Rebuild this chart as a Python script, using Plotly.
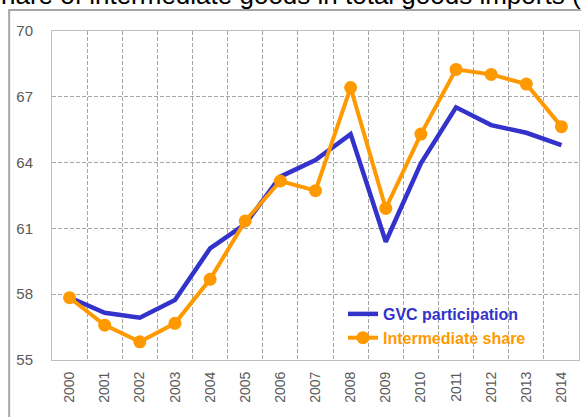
import plotly.graph_objects as go

years = [str(y) for y in range(2000, 2015)]
gvc_participation = [57.85, 57.15, 56.93, 57.73, 60.09, 61.2, 63.36, 64.12, 65.30,
                     60.39, 63.97, 66.52, 65.71, 65.36, 64.80]
intermediate_share = [57.84, 56.59, 55.83, 56.67, 58.68, 61.34, 63.16, 62.72, 67.42,
                      61.91, 65.30, 68.25, 68.02, 67.58, 65.64]
y_ticks = [55, 58, 61, 64, 67, 70]
title_text = "hare of intermediate goods in total goods imports ("

BLUE = "#3333CC"
ORANGE = "#FF9900"

fig = go.Figure()
fig.add_trace(go.Scatter(x=years, y=gvc_participation, mode="lines",
                         name=f"<b><span style='color:{BLUE}'>GVC participation</span></b>",
                         line=dict(color=BLUE, width=4.5)))
fig.add_trace(go.Scatter(x=years, y=intermediate_share, mode="lines+markers",
                         name=f"<b><span style='color:{ORANGE}'>Intermediate share</span></b>",
                         line=dict(color=ORANGE, width=4),
                         marker=dict(color=ORANGE, size=13)))

L, R, T, B = 52.3, 578.8, 31.0, 360.0
W, H = 581, 417
pw, ph = R - L, B - T

def px(x):
    return (x - L) / pw

def py(y):
    return (B - y) / ph

GRID = "#a6a6a6"

fig.update_layout(
    width=W, height=H,
    margin=dict(l=L, r=W - R, t=T, b=H - B, pad=0),
    paper_bgcolor="white", plot_bgcolor="white",
    showlegend=True,
    legend=dict(x=px(343), y=py(297), xanchor="left", yanchor="top",
                bgcolor="rgba(0,0,0,0)", borderwidth=0,
                font=dict(family="Liberation Sans, Arial", size=16, color=BLUE),
                itemwidth=30, tracegroupgap=0, itemsizing="trace"),
    font=dict(family="Liberation Sans, Arial"),
)

fig.update_xaxes(type="category", tickson="boundaries", showgrid=True,
                 gridcolor=GRID, griddash="4px,2px", gridwidth=1,
                 showline=True, linecolor="#bfbfbf", linewidth=1, mirror=True,
                 ticks="", tickangle=-90, ticklabelstandoff=5,
                 tickfont=dict(family="Liberation Sans, Arial", size=14, color="#595959"),
                 range=[-0.5, 14.5], zeroline=False)
fig.update_yaxes(range=[55, 70], tickvals=y_ticks, ticktext=[str(v) for v in y_ticks],
                 showgrid=True, gridcolor=GRID, griddash="4px,2px", gridwidth=1,
                 showline=True, linecolor="#bfbfbf", linewidth=1, mirror=True,
                 ticks="", ticklabelstandoff=15,
                 tickfont=dict(family="Liberation Sans, Arial", size=15, color="#595959"),
                 zeroline=False)

# outer frame lines
fig.add_shape(type="line", xref="paper", yref="paper",
              x0=px(9.5), x1=px(9.5), y0=py(10), y1=py(420),
              line=dict(color="#a6a6a6", width=2))
fig.add_shape(type="line", xref="paper", yref="paper",
              x0=px(8.5), x1=px(590), y0=py(10), y1=py(10),
              line=dict(color="#a6a6a6", width=2))

fig.add_annotation(text=title_text, xref="paper", yref="paper",
                   x=px(-1), y=py(12), xanchor="left", yanchor="bottom",
                   showarrow=False,
                   font=dict(family="Liberation Sans, Arial", size=26, color="black"))

fig.write_html("out.html", config={"displayModeBar": False},
               post_script="document.body.style.margin='0';")
